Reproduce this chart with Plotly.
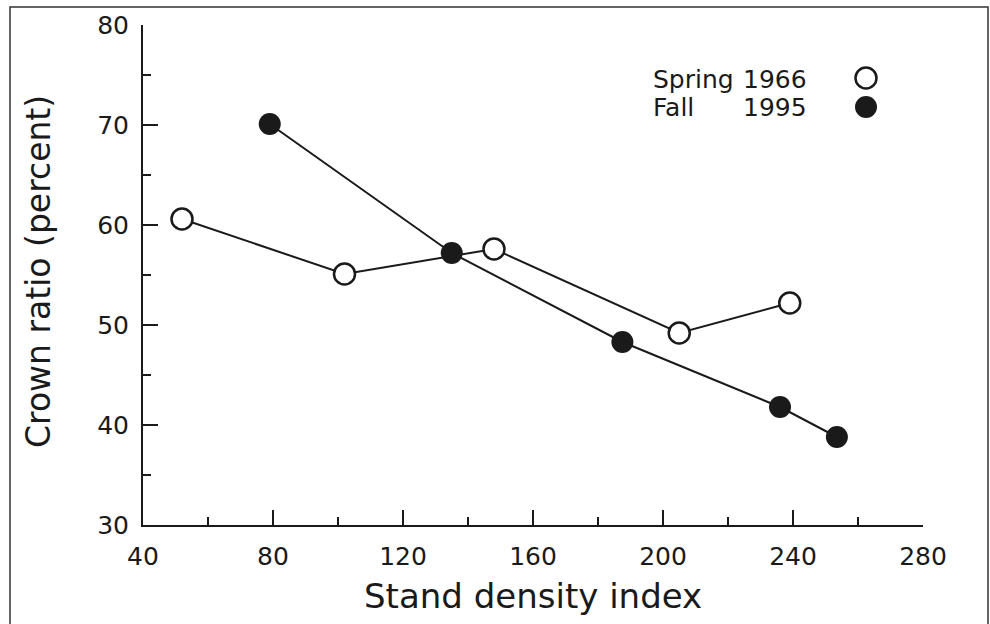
import plotly.graph_objects as go

# ---- data ----
spring_x = [52, 102, 148, 205, 239]
spring_y = [60.6, 55.1, 57.6, 49.2, 52.2]
fall_x = [79, 135, 187.5, 236, 253.5]
fall_y = [70.1, 57.2, 48.3, 41.8, 38.8]
x_ticks = [40, 80, 120, 160, 200, 240, 280]
y_ticks = [30, 40, 50, 60, 70, 80]
x_title = "Stand density index"
y_title = "Crown ratio (percent)"
legend_names = ["Spring", "Fall"]
legend_years = ["1966", "1995"]

W, H = 990, 624
L, R, T, B = 143, 67, 25, 99
pw, ph = W - L - R, H - T - B

def px(xp):
    return (xp - L) / pw

def py(yp):
    return (H - B - yp) / ph

FONT = "DejaVu Sans"
INK = "#1a1a1a"

fig = go.Figure()
fig.add_trace(go.Scatter(
    x=spring_x, y=spring_y, mode="lines+markers", name="Spring 1966",
    line=dict(color=INK, width=2),
    marker=dict(symbol="circle", size=21, color="white", line=dict(color=INK, width=2.5)),
    showlegend=False))
fig.add_trace(go.Scatter(
    x=fall_x, y=fall_y, mode="lines+markers", name="Fall 1995",
    line=dict(color=INK, width=2),
    marker=dict(symbol="circle", size=22, color=INK, line=dict(color=INK, width=0)),
    showlegend=False))

axis_common = dict(
    showgrid=False, zeroline=False, showline=True, linecolor=INK, linewidth=2,
    ticks="inside", ticklen=15, tickwidth=2, tickcolor=INK,
    tickfont=dict(family=FONT, size=25, color=INK),
    mirror=False,
)
fig.update_xaxes(range=[40, 280], tickvals=x_ticks, ticklabelstandoff=8,
                 minor=dict(dtick=20, ticks="inside", ticklen=8, tickwidth=2, tickcolor=INK, showgrid=False),
                 **axis_common)
fig.update_yaxes(range=[30, 80], tickvals=y_ticks, ticklabelstandoff=7,
                 minor=dict(dtick=5, ticks="inside", ticklen=8, tickwidth=2, tickcolor=INK, showgrid=False),
                 **axis_common)

annotations = [
    dict(text=x_title, x=0.5, y=py(596), xref="paper", yref="paper",
         xanchor="center", yanchor="middle", showarrow=False,
         font=dict(family=FONT, size=34, color=INK)),
    dict(text=y_title, x=px(38), y=py(272), xref="paper", yref="paper",
         xanchor="center", yanchor="middle", showarrow=False, textangle=-90,
         font=dict(family=FONT, size=33, color=INK)),
]
row_y = [79, 107]
for name, year, ry in zip(legend_names, legend_years, row_y):
    annotations.append(dict(text=name, x=px(651), y=py(ry), xref="paper", yref="paper",
                            xanchor="left", yanchor="middle", showarrow=False,
                            font=dict(family=FONT, size=25, color=INK)))
    annotations.append(dict(text=year, x=px(809), y=py(ry), xref="paper", yref="paper",
                            xanchor="right", yanchor="middle", showarrow=False,
                            font=dict(family=FONT, size=25, color=INK)))

shapes = [
    # outer frame
    dict(type="rect", xref="paper", yref="paper",
         x0=px(10), x1=px(988), y0=py(640), y1=py(7),
         line=dict(color="#333", width=1.5), fillcolor="rgba(0,0,0,0)", layer="below"),
    # legend symbols
    dict(type="circle", xref="paper", yref="paper", xsizemode="pixel", ysizemode="pixel",
         xanchor=px(866), yanchor=py(78), x0=-10.5, x1=10.5, y0=-10.5, y1=10.5,
         line=dict(color=INK, width=2.5), fillcolor="white"),
    dict(type="circle", xref="paper", yref="paper", xsizemode="pixel", ysizemode="pixel",
         xanchor=px(866), yanchor=py(107), x0=-11, x1=11, y0=-11, y1=11,
         line=dict(color=INK, width=0), fillcolor=INK),
]

fig.update_layout(
    width=W, height=H, autosize=False,
    margin=dict(l=L, r=R, t=T, b=B, pad=0),
    paper_bgcolor="white", plot_bgcolor="white",
    annotations=annotations, shapes=shapes,
    font=dict(family=FONT, color=INK),
)

fig.write_html("out.html", config={"displayModeBar": False},
               post_script="document.body.style.margin='0';document.body.style.overflow='hidden';")
